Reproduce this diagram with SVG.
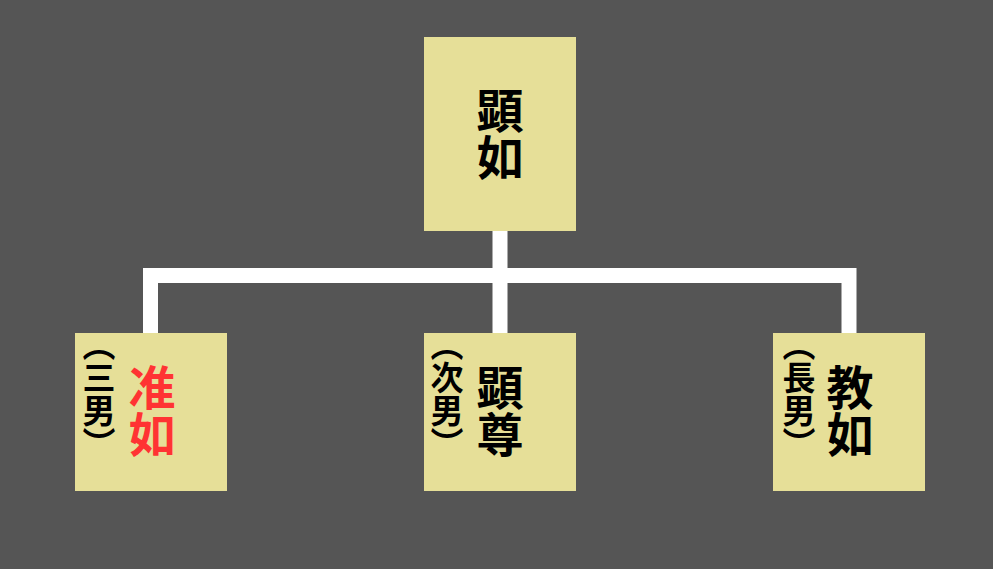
<svg xmlns="http://www.w3.org/2000/svg" width="993" height="569" viewBox="0 0 993 569">
<style>
.box{fill:#e6df98}
.main{font-family:"Noto Sans CJK JP","Noto Sans CJK SC",sans-serif;font-weight:bold;font-size:47px;writing-mode:vertical-rl;text-orientation:upright;text-anchor:middle;fill:#000}
.sub{font-family:"Noto Sans CJK JP","Noto Sans CJK SC",sans-serif;font-weight:bold;font-size:33px;writing-mode:vertical-rl;text-orientation:upright;text-anchor:start;fill:#000}
.red{fill:#ff3333}
.conn{fill:none;stroke:#ffffff;stroke-width:15;stroke-linejoin:miter;stroke-linecap:butt}
</style>
<rect x="0" y="0" width="993" height="569" fill="#555555"/>
<g id="connectors">
<path class="conn" d="M500 231 V333"/>
<path class="conn" d="M150.5 333 V275.5 H849 V333"/>
</g>
<g id="node-kennyo">
<rect class="box" x="424" y="37" width="152" height="194"/>
<text class="main" x="500" y="134">顕如</text>
</g>
<g id="node-junnyo">
<rect class="box" x="75" y="333" width="152" height="158"/>
<text class="sub" x="99" y="328">（三男）</text>
<text class="main red" x="152" y="411">准如</text>
</g>
<g id="node-kenson">
<rect class="box" x="424" y="333" width="152" height="158"/>
<text class="sub" x="447" y="328">（次男）</text>
<text class="main" x="500" y="411">顕尊</text>
</g>
<g id="node-kyonyo">
<rect class="box" x="773" y="333" width="152" height="158"/>
<text class="sub" x="799" y="328">（長男）</text>
<text class="main" x="850" y="411">教如</text>
</g>
</svg>
